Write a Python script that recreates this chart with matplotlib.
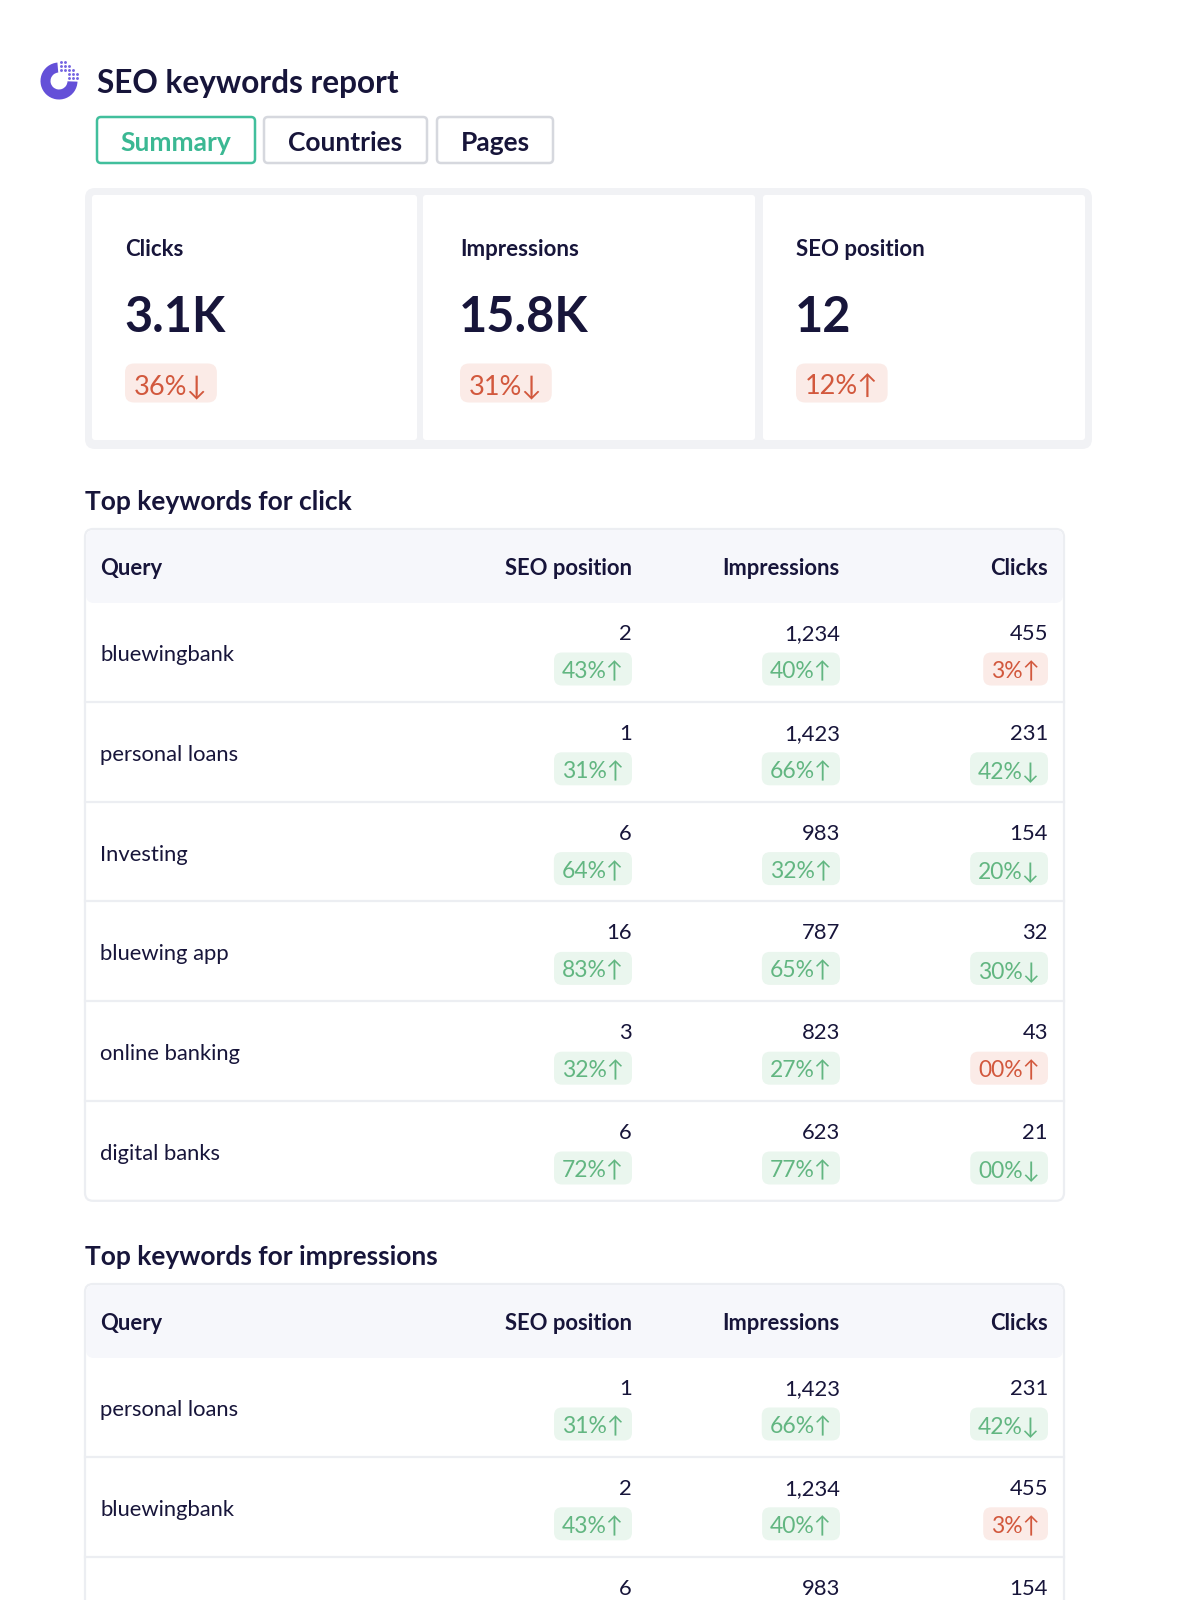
import matplotlib
matplotlib.use("Agg")
import matplotlib.pyplot as plt
from matplotlib.patches import FancyBboxPatch, Wedge, Circle

plt.rcParams['font.family'] = ['Lato', 'DejaVu Sans']

NAVY = '#17153a'
RED_TXT, RED_BG = '#d2583d', '#fbebe7'
GREEN_TXT, GREEN_BG = '#62b681', '#eaf6ee'
LINE = '#eceef2'

# ---- data ----
tabs = ['Summary', 'Countries', 'Pages']
kpi_labels = ['Clicks', 'Impressions', 'SEO position']
kpi_values = ['3.1K', '15.8K', '12']
kpi_changes = ['36%↓', '31%↓', '12%↑']
kpi_good = [False, False, False]

columns = ['Query', 'SEO position', 'Impressions', 'Clicks']

click_queries = ['bluewingbank', 'personal loans', 'Investing', 'bluewing app',
                 'online banking', 'digital banks']
click_pos = ['2', '1', '6', '16', '3', '6']
click_pos_chg = ['43%↑', '31%↑', '64%↑', '83%↑', '32%↑', '72%↑']
click_pos_good = [True, True, True, True, True, True]
click_impr = ['1,234', '1,423', '983', '787', '823', '623']
click_impr_chg = ['40%↑', '66%↑', '32%↑', '65%↑', '27%↑', '77%↑']
click_impr_good = [True, True, True, True, True, True]
click_clicks = ['455', '231', '154', '32', '43', '21']
click_clicks_chg = ['3%↑', '42%↓', '20%↓', '30%↓', '00%↑', '00%↓']
click_clicks_good = [False, True, True, True, False, True]

impr_queries = ['personal loans', 'bluewingbank', 'Investing']
impr_pos = ['1', '2', '6']
impr_pos_chg = ['31%↑', '43%↑', '64%↑']
impr_pos_good = [True, True, True]
impr_impr = ['1,423', '1,234', '983']
impr_impr_chg = ['66%↑', '40%↑', '32%↑']
impr_impr_good = [True, True, True]
impr_clicks = ['231', '455', '154']
impr_clicks_chg = ['42%↓', '3%↑', '20%↓']
impr_clicks_good = [True, False, True]

# ---- canvas in pixel units ----
fig = plt.figure(figsize=(11.8, 16), dpi=100)
ax = fig.add_axes([0, 0, 1, 1])
ax.set_xlim(0, 1180)
ax.set_ylim(1600, 0)
ax.axis('off')
renderer = fig.canvas.get_renderer()


def rbox(x, y, w, h, r, fc, ec='none', lw=0, z=1):
    p = FancyBboxPatch((x, y), w, h, boxstyle=f"round,pad=0,rounding_size={r}",
                       fc=fc, ec=ec, lw=lw, zorder=z, mutation_aspect=1)
    ax.add_patch(p)
    return p


def badge_right(xr, yc, text, good, size=16.5, h=33, pad=8):
    col = GREEN_TXT if good else RED_TXT
    bg = GREEN_BG if good else RED_BG
    t = ax.text(xr - pad, yc, text, ha='right', va='center_baseline', fontsize=size,
                color=col, zorder=4)
    bb = t.get_window_extent(renderer)
    w = bb.width + 2 * pad
    rbox(xr - w, yc - h / 2 - 1, w, h, 8, bg, z=3)


def badge_left(xl, yc, text, good, size=19.5, h=39, pad=9):
    col = GREEN_TXT if good else RED_TXT
    bg = GREEN_BG if good else RED_BG
    t = ax.text(xl + pad, yc, text, ha='left', va='center_baseline', fontsize=size,
                color=col, zorder=4)
    bb = t.get_window_extent(renderer)
    w = bb.width + 2 * pad
    rbox(xl, yc - h / 2 - 1, w, h, 9, bg, z=3)


# ---- header with logo (y axis points down, so angles run clockwise) ----
cx, cy = 59, 81
ax.add_patch(Wedge((cx, cy), 18.5, 2, 265, width=10, fc='#6450d8', ec='none', zorder=3))
for i in range(5):
    for j in range(5):
        dx, dy = 2.5 + j * 4.0, -2.5 - i * 4.0
        d = (dx ** 2 + dy ** 2) ** 0.5
        if 9.5 < d < 20.5:
            ax.add_patch(Circle((cx + dx, cy + dy), 1.45, fc='#7565e2', ec='none', zorder=3))
ax.text(97, 81, 'SEO keywords report', ha='left', va='center_baseline', fontsize=22.8,
        fontweight='bold', color=NAVY)

tab_x = [97, 264, 437]
tab_w = [158, 163, 116]
for k, name in enumerate(tabs):
    active = k == 0
    rbox(tab_x[k], 117, tab_w[k], 46, 4, 'white',
         ec='#41bf9c' if active else '#d6d8de', lw=1.8, z=2)
    ax.text(tab_x[k] + tab_w[k] / 2, 141, name, ha='center', va='center_baseline',
            fontsize=19, fontweight='bold', color='#3bb893' if active else NAVY, zorder=3)

# ---- KPI cards ----
rbox(85, 188, 1007, 261, 10, '#f1f2f5', z=1)
card_x = [92, 423, 763]
card_w = [325, 332, 322]
text_x = [125, 460, 796]
for k in range(len(kpi_labels)):
    rbox(card_x[k], 195, card_w[k], 245, 3, 'white', z=2)
    x0 = text_x[k]
    ax.text(x0, 247, kpi_labels[k], ha='left', va='center_baseline', fontsize=16,
            fontweight='bold', color=NAVY, zorder=3)
    ax.text(x0 - 1, 313, kpi_values[k], ha='left', va='center_baseline', fontsize=35,
            fontweight='bold', color=NAVY, zorder=3)
    badge_left(x0, 384, kpi_changes[k], kpi_good[k])


# ---- tables ----
col_right = [None, 632, 840, 1048]


def draw_table(title, title_y, top, queries, vals, rows_h=99.8, head_h=73):
    ax.text(85, title_y, title, ha='left', va='center_baseline', fontsize=19,
            fontweight='bold', color=NAVY)
    n = len(queries)
    x0, w = 85, 979
    bottom = top + head_h + n * rows_h
    rbox(x0, top, w, bottom - top, 8, 'white', ec=LINE, lw=1.6, z=1)
    rbox(x0 + 1, top + 1, w - 2, head_h, 8, '#f6f7fb', z=1.5)
    hy = top + head_h / 2 + 1
    ax.text(x0 + 15, hy, columns[0], ha='left', va='center_baseline', fontsize=15.8,
            fontweight='bold', color=NAVY, zorder=3)
    for c in range(1, 4):
        ax.text(col_right[c], hy, columns[c], ha='right', va='center_baseline',
                fontsize=15.8, fontweight='bold', color=NAVY, zorder=3)
    for r in range(n):
        rt = top + head_h + r * rows_h
        if r > 0:
            ax.plot([x0, x0 + w], [rt, rt], color=LINE, lw=1.6, zorder=2)
        ax.text(x0 + 15, rt + 51, queries[r], ha='left', va='center_baseline',
                fontsize=15.8, color=NAVY, zorder=3)
        for c in range(3):
            num, chg, good = vals[c]
            ax.text(col_right[c + 1], rt + 30, num[r], ha='right', va='center_baseline',
                    fontsize=15.8, color=NAVY, zorder=3)
            badge_right(col_right[c + 1], rt + 68, chg[r], good[r])


draw_table('Top keywords for click', 500, 529, click_queries,
           [(click_pos, click_pos_chg, click_pos_good),
            (click_impr, click_impr_chg, click_impr_good),
            (click_clicks, click_clicks_chg, click_clicks_good)])
draw_table('Top keywords for impressions', 1255, 1284, impr_queries,
           [(impr_pos, impr_pos_chg, impr_pos_good),
            (impr_impr, impr_impr_chg, impr_impr_good),
            (impr_clicks, impr_clicks_chg, impr_clicks_good)])

fig.savefig('out.png', dpi=100, facecolor='white')
